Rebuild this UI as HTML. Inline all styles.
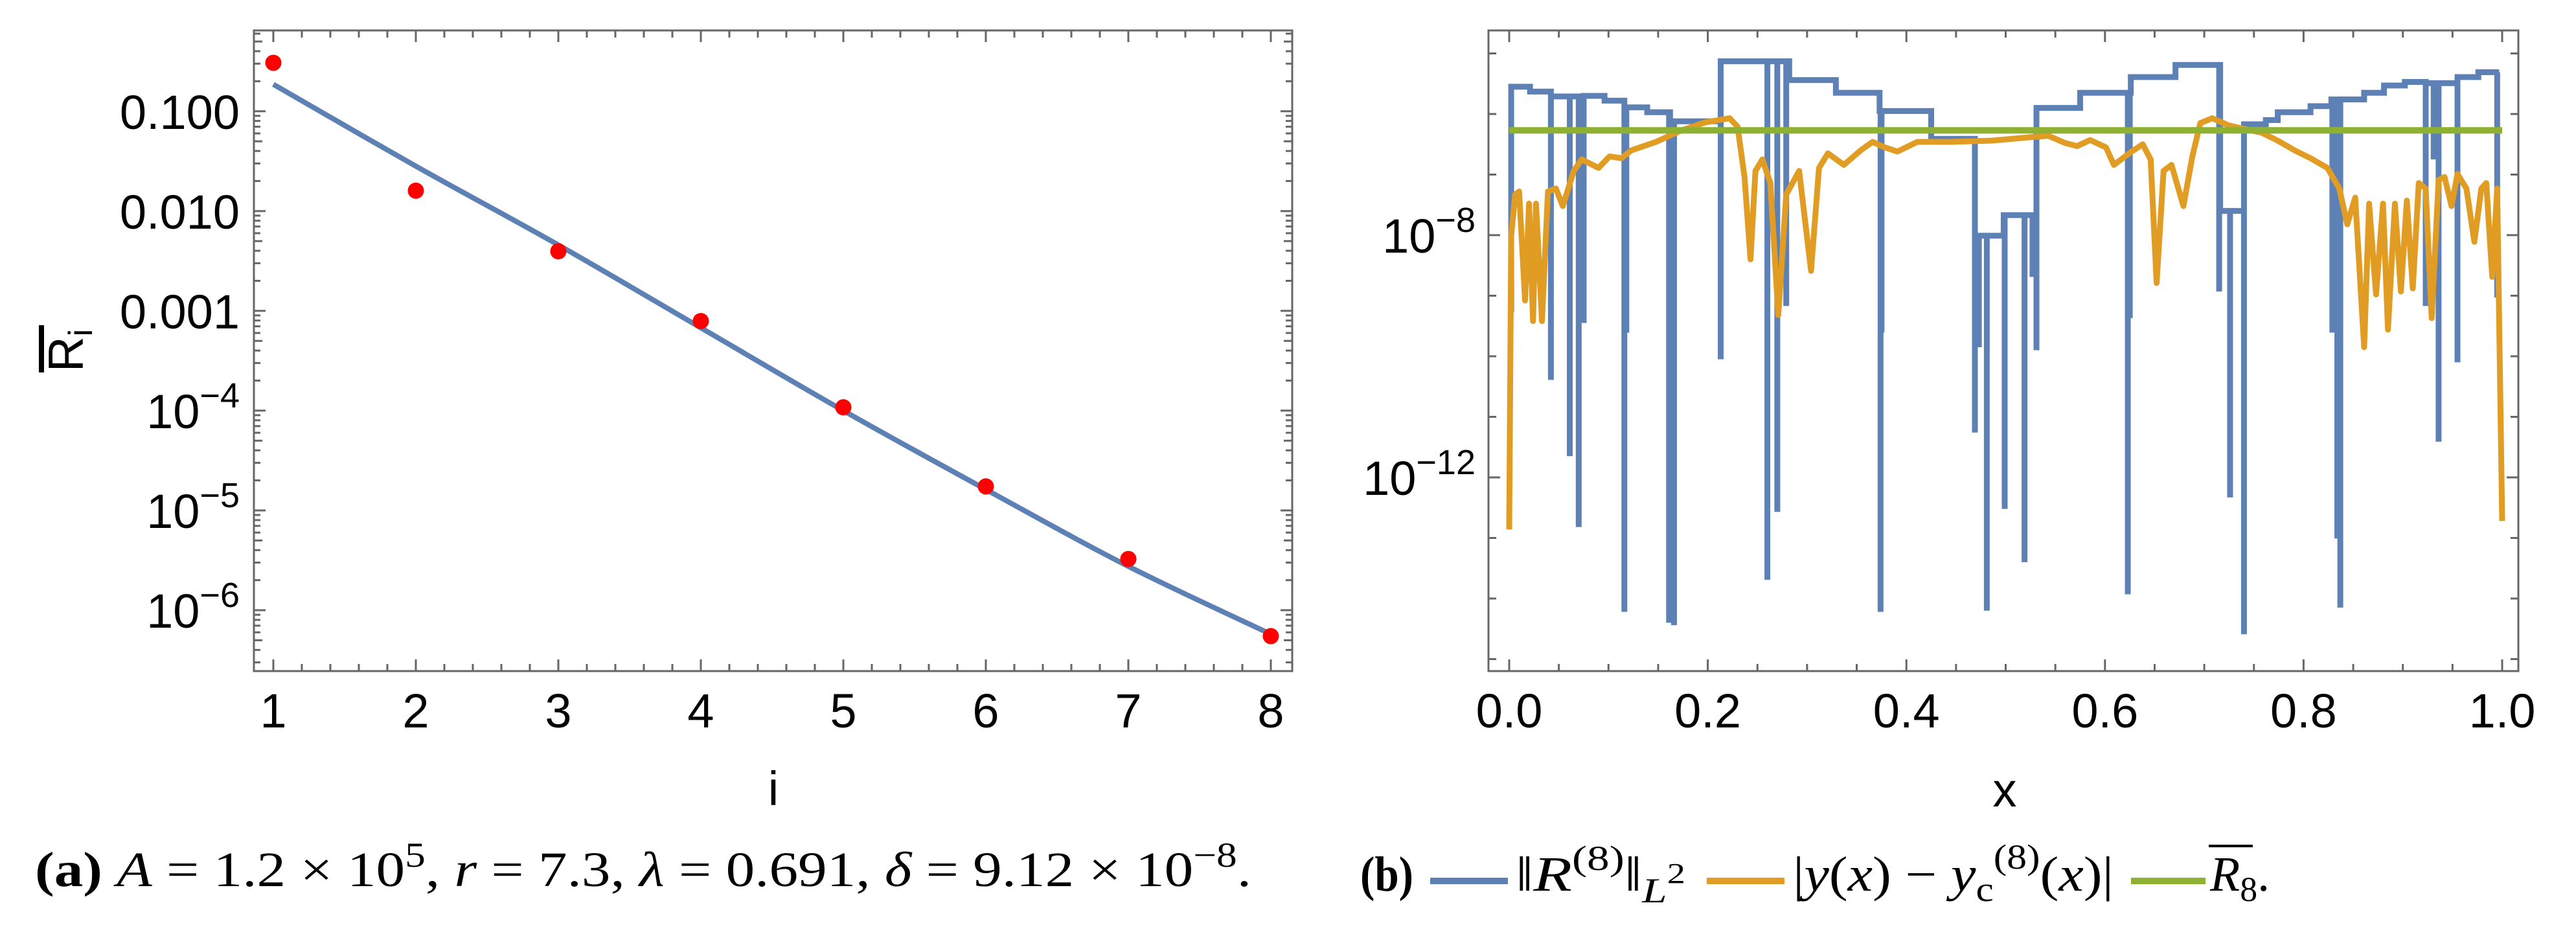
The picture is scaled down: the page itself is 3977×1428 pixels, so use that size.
<!DOCTYPE html>
<html><head><meta charset="utf-8"><style>
html,body{margin:0;padding:0;background:#fff;}
svg{display:block;}
</style></head><body>
<svg id="fig" width="3977" height="1428" viewBox="0 0 3977 1428" xmlns="http://www.w3.org/2000/svg">
<g id="left"></g>
<g id="right"></g>
<text x="54" y="1368" font-family="Liberation Serif, serif" font-size="76" textLength="1878" lengthAdjust="spacingAndGlyphs"><tspan font-weight="bold">(a)</tspan> <tspan font-style="italic">A</tspan> = 1.2 × 10<tspan dy="-30" font-size="54">5</tspan><tspan dy="30">, </tspan><tspan font-style="italic">r</tspan> = 7.3, <tspan font-style="italic">λ</tspan> = 0.691, <tspan font-style="italic">δ</tspan> = 9.12 × 10<tspan dy="-30" font-size="54">−8</tspan><tspan dy="30">.</tspan></text>
<g font-family="Liberation Serif, serif" font-size="76">
<text x="2100" y="1375" font-weight="bold" textLength="82" lengthAdjust="spacingAndGlyphs">(b)</text>
<line x1="2208" y1="1360" x2="2328" y2="1360" stroke="#5E81B5" stroke-width="10"/>
<text x="2340" y="1375" textLength="262" lengthAdjust="spacingAndGlyphs">‖<tspan font-style="italic">R</tspan><tspan dy="-32" font-size="54">(8)</tspan><tspan dy="32">‖</tspan><tspan dy="18" font-size="54" font-style="italic">L</tspan><tspan dy="-30" font-size="44">2</tspan></text>
<line x1="2635" y1="1360" x2="2755" y2="1360" stroke="#E19C24" stroke-width="10"/>
<text x="2768" y="1375" textLength="495" lengthAdjust="spacingAndGlyphs">|<tspan font-style="italic">y</tspan>(<tspan font-style="italic">x</tspan>) − <tspan font-style="italic">y</tspan><tspan dy="16" font-size="54">c</tspan><tspan dy="-50" font-size="54">(8)</tspan><tspan dy="34">(</tspan><tspan font-style="italic">x</tspan>)|</text>
<line x1="3290" y1="1360" x2="3405" y2="1360" stroke="#8FB131" stroke-width="10"/>
<text x="3412" y="1375" textLength="92" lengthAdjust="spacingAndGlyphs"><tspan font-style="italic">R</tspan><tspan dy="16" font-size="54">8</tspan><tspan dy="-16">.</tspan></text>
<line x1="3410" y1="1306" x2="3478" y2="1306" stroke="#000" stroke-width="4"/>
</g>
</svg>
<script>
// ---------- Left chart data ----------
const iValues = [1,2,3,4,5,6,7,8];
const pointValues = [0.306,0.016,0.00395,0.00079,0.000108,0.0000174,0.00000326,0.00000055];
const fitLogValues = [-0.73,-1.55,-2.34,-3.17,-4.0,-4.79,-5.56,-6.24];
const leftYTickExps = [-1,-2,-3,-4,-5,-6];
const leftYTickLabels = ["0.100","0.010","0.001","10|−4","10|−5","10|−6"];
const leftXTicks = [1,2,3,4,5,6,7,8];

// ---------- Right chart data ----------
const stepX = [0.002,0.021,0.042,0.063,0.075,0.096,0.116,0.139,0.162,0.213,0.257,0.282,0.329,0.373,0.378,0.425,0.469,0.498,0.519,0.531,0.575,0.626,0.671,0.716,0.740,0.762,0.774,0.807,0.828,0.861,0.881,0.902,0.923,0.939,0.955,0.976,0.997];
const stepLog = [-5.55,-5.63,-5.71,-5.71,-5.70,-5.78,-5.89,-5.97,-6.12,-5.13,-5.13,-5.44,-5.65,-5.95,-5.95,-6.41,-8.01,-7.67,-7.67,-5.90,-5.65,-5.39,-5.19,-7.60,-6.17,-6.10,-5.97,-5.87,-5.76,-5.65,-5.53,-5.47,-5.49,-5.49,-5.39,-5.31,-5.31];
const spikeX = [0.002,0.042,0.061,0.070,0.075,0.116,0.118,0.161,0.166,0.213,0.260,0.270,0.279,0.374,0.375,0.469,0.473,0.481,0.499,0.519,0.527,0.531,0.623,0.625,0.715,0.726,0.740,0.829,0.834,0.837,0.923,0.931,0.936,0.955,0.995];
const spikeLog = [-9.27,-10.39,-11.65,-12.82,-9.45,-14.22,-9.61,-14.40,-14.44,-10.05,-13.69,-12.57,-9.17,-14.22,-9.61,-11.26,-9.85,-14.2,-12.52,-13.40,-8.69,-9.90,-13.93,-9.37,-8.93,-12.33,-14.59,-9.61,-13.01,-14.15,-9.17,-6.75,-11.41,-10.10,-9.03];
const errX = [0.000,0.002,0.006,0.010,0.016,0.020,0.024,0.027,0.033,0.039,0.047,0.054,0.065,0.073,0.090,0.101,0.113,0.123,0.148,0.172,0.197,0.222,0.230,0.237,0.243,0.248,0.255,0.263,0.271,0.279,0.292,0.304,0.312,0.321,0.337,0.354,0.366,0.378,0.391,0.411,0.444,0.486,0.527,0.543,0.560,0.572,0.585,0.601,0.609,0.626,0.638,0.646,0.652,0.659,0.667,0.679,0.688,0.696,0.708,0.725,0.758,0.774,0.791,0.807,0.824,0.836,0.844,0.852,0.861,0.866,0.873,0.880,0.885,0.892,0.898,0.904,0.910,0.916,0.923,0.929,0.936,0.942,0.949,0.955,0.964,0.972,0.979,0.984,0.990,0.995,1.000];
const errLog = [-12.86,-8.01,-7.33,-7.28,-9.08,-7.48,-9.42,-7.48,-9.42,-7.28,-7.23,-7.52,-6.94,-6.75,-6.89,-6.70,-6.73,-6.60,-6.46,-6.28,-6.14,-6.07,-6.21,-7.04,-8.40,-6.94,-6.75,-7.14,-9.32,-7.33,-6.94,-8.59,-6.89,-6.65,-6.84,-6.60,-6.46,-6.55,-6.62,-6.46,-6.46,-6.44,-6.38,-6.36,-6.48,-6.53,-6.43,-6.55,-6.84,-6.63,-6.50,-6.75,-8.79,-6.94,-6.84,-7.52,-6.70,-6.15,-6.07,-6.19,-6.31,-6.44,-6.60,-6.73,-6.89,-7.23,-7.82,-7.38,-9.85,-7.48,-8.98,-7.48,-9.56,-7.48,-8.93,-7.43,-8.88,-7.14,-7.23,-9.37,-7.09,-7.04,-7.52,-6.99,-7.23,-8.11,-7.23,-7.14,-8.69,-7.23,-12.72];
const meanLog = [-6.27];
const rightYTickExps = [-5,-6,-7,-8,-9,-10,-11,-12,-13,-14,-15];
const rightYLabelExps = [-8,-12];
const rightXTickLabels = ["0.0","0.2","0.4","0.6","0.8","1.0"];

const NS = "http://www.w3.org/2000/svg";
function mk(parent, tag, attrs){ const e=document.createElementNS(NS,tag); for(const k in attrs) e.setAttribute(k,attrs[k]); parent.appendChild(e); return e; }
const FRAME = "#666666";

// ---------- Left chart ----------
(function(){
  const g = document.getElementById('left');
  const L=392,R=1995,T=47,B=1036;
  const yTop=-0.19, yBot=-6.61;
  const xs = v => 422 + (v-1)*220;
  const ys = lg => T + (yTop-lg)/(yTop-yBot)*(B-T);
  // ticks
  for(let v=0.8; v<=8.21; v+=0.2){
    const major = Math.abs(v-Math.round(v))<1e-6;
    const len = major?18:11;
    const x=xs(v);
    if(x<L||x>R) continue;
    const t1=mk(g,'line',{x1:x,y1:B,x2:x,y2:B-len,stroke:FRAME,'stroke-width':3});
     
    const t2=mk(g,'line',{x1:x,y1:T,x2:x,y2:T+len,stroke:FRAME,'stroke-width':3});
     
  }
  for(let d=-7; d<=0; d++){
    for(let m=1;m<=9;m++){
      const lg=d+Math.log10(m);
      const y=ys(lg); if(y<T||y>B) continue;
      const len = m===1?18:(m===5?13:10);
      const a=mk(g,'line',{x1:L,y1:y,x2:L+len,y2:y,stroke:FRAME,'stroke-width':3});
       
      const b=mk(g,'line',{x1:R,y1:y,x2:R-len,y2:y,stroke:FRAME,'stroke-width':3});
       
    }
  }
  const fr=mk(g,'rect',{x:L,y:T,width:R-L,height:B-T,fill:'none',stroke:FRAME,'stroke-width':3});
   
  // tick labels
  leftXTicks.forEach(v=>{
    const t=mk(g,'text',{x:xs(v),y:1123,'text-anchor':'middle','font-family':'Liberation Sans, sans-serif','font-size':74});
    t.textContent=String(v);
     
  });
  leftYTickExps.forEach((e,k)=>{
    const lab=leftYTickLabels[k]; const y=ys(e)+27;
    const t=mk(g,'text',{x:370,y:y,'text-anchor':'end','font-family':'Liberation Sans, sans-serif','font-size':74});
     
    if(lab.includes('|')){
      const [base,ex]=lab.split('|');
      const s1=document.createElementNS(NS,'tspan'); s1.textContent=base; t.appendChild(s1);
      const s2=document.createElementNS(NS,'tspan'); s2.setAttribute('dy','-32'); s2.setAttribute('font-size','54'); s2.textContent=ex; t.appendChild(s2);
    } else t.textContent=lab;
  });
  // axis labels
  const xl=mk(g,'text',{x:1194,y:1243,'text-anchor':'middle','font-family':'Liberation Sans, sans-serif','font-size':74});
  xl.textContent='i';  
  const yl=mk(g,'text',{x:0,y:0,'text-anchor':'middle','font-family':'Liberation Sans, sans-serif','font-size':76,transform:'translate(128,541) rotate(-90)'});
   
  const r1=document.createElementNS(NS,'tspan'); r1.textContent='R'; yl.appendChild(r1);
  const r2=document.createElementNS(NS,'tspan'); r2.setAttribute('dy','14'); r2.setAttribute('font-size','52'); r2.textContent='i'; yl.appendChild(r2);
  const ob=mk(g,'line',{x1:64,y1:502,x2:64,y2:575,stroke:'#000','stroke-width':8});
   
  // fit curve (Catmull-Rom)
  const P = iValues.map((v,k)=>[xs(v),ys(fitLogValues[k])]);
  let d=`M${P[0][0]},${P[0][1]}`;
  for(let k=0;k<P.length-1;k++){
    const p0=P[Math.max(0,k-1)],p1=P[k],p2=P[k+1],p3=P[Math.min(P.length-1,k+2)];
    const c1=[p1[0]+(p2[0]-p0[0])/6,p1[1]+(p2[1]-p0[1])/6];
    const c2=[p2[0]-(p3[0]-p1[0])/6,p2[1]-(p3[1]-p1[1])/6];
    d+=` C${c1[0]},${c1[1]} ${c2[0]},${c2[1]} ${p2[0]},${p2[1]}`;
  }
  const fit=mk(g,'path',{d:d,fill:'none',stroke:'#5E81B5','stroke-width':8});
   
  iValues.forEach((v,k)=>{
    const c=mk(g,'circle',{cx:xs(v),cy:ys(Math.log10(pointValues[k])),r:12.5,fill:'#FF0000'});
     
  });
})();

// ---------- Right chart ----------
(function(){
  const g=document.getElementById('right');
  const L=2298,R=3888,T=47,B=1036;
  const xs = v => 2330 + v*1533;
  const ys = lg => 363 + (-8-lg)*93.5;
  for(let k=0;k<=20;k++){
    const v=k*0.05; const major=k%4===0; const len=major?18:11;
    const a=mk(g,'line',{x1:xs(v),y1:B,x2:xs(v),y2:B-len,stroke:FRAME,'stroke-width':3});
     
    const b=mk(g,'line',{x1:xs(v),y1:T,x2:xs(v),y2:T+len,stroke:FRAME,'stroke-width':3});
     
  }
  rightYTickExps.forEach(e=>{
    const y=ys(e); if(y<T||y>B) return;
    const len = rightYLabelExps.includes(e)?18:12;
    const a=mk(g,'line',{x1:L,y1:y,x2:L+len,y2:y,stroke:FRAME,'stroke-width':3});
     
    const b=mk(g,'line',{x1:R,y1:y,x2:R-len,y2:y,stroke:FRAME,'stroke-width':3});
     
  });
  const fr=mk(g,'rect',{x:L,y:T,width:R-L,height:B-T,fill:'none',stroke:FRAME,'stroke-width':3});
   
  rightXTickLabels.forEach((lab,k)=>{
    const t=mk(g,'text',{x:xs(k*0.2),y:1123,'text-anchor':'middle','font-family':'Liberation Sans, sans-serif','font-size':74});
    t.textContent=lab;  
  });
  rightYLabelExps.forEach(e=>{
    const t=mk(g,'text',{x:2278,y:ys(e)+27,'text-anchor':'end','font-family':'Liberation Sans, sans-serif','font-size':74});
     
    const s1=document.createElementNS(NS,'tspan'); s1.textContent='10'; t.appendChild(s1);
    const s2=document.createElementNS(NS,'tspan'); s2.setAttribute('dy','-32'); s2.setAttribute('font-size','54'); s2.textContent='−'+Math.abs(e); t.appendChild(s2);
  });
  const xl=mk(g,'text',{x:3095,y:1245,'text-anchor':'middle','font-family':'Liberation Sans, sans-serif','font-size':74});
  xl.textContent='x';  
  // blue step function
  let d=`M${xs(stepX[0])},${ys(spikeLog[0])} L${xs(stepX[0])},${ys(stepLog[0])}`;
  for(let k=1;k<stepX.length;k++){
    d+=` L${xs(stepX[k])},${ys(stepLog[k-1])} L${xs(stepX[k])},${ys(stepLog[k])}`;
  }
  const levelAt = x => { let v=stepLog[0]; for(let k=0;k<stepX.length;k++){ if(stepX[k]<=x+1e-9) v=stepLog[k]; } return v; };
  for(let k=1;k<spikeX.length;k++){
    const x=xs(spikeX[k]);
    d+=` M${x},${ys(levelAt(spikeX[k]))} L${x},${ys(spikeLog[k])}`;
  }
  const bl=mk(g,'path',{d:d,fill:'none',stroke:'#5E81B5','stroke-width':9,'stroke-linejoin':'miter'});
   
  // orange
  let od='';
  errX.forEach((v,k)=>{ od += (k?' L':'M')+xs(v)+','+ys(errLog[k]); });
  const or=mk(g,'path',{d:od,fill:'none',stroke:'#E19C24','stroke-width':9,'stroke-linejoin':'round'});
   
  // green
  const gr=mk(g,'line',{x1:xs(0),y1:ys(meanLog[0]),x2:xs(1),y2:ys(meanLog[0]),stroke:'#8FB131','stroke-width':10});
   
})();
</script>
</body></html>
